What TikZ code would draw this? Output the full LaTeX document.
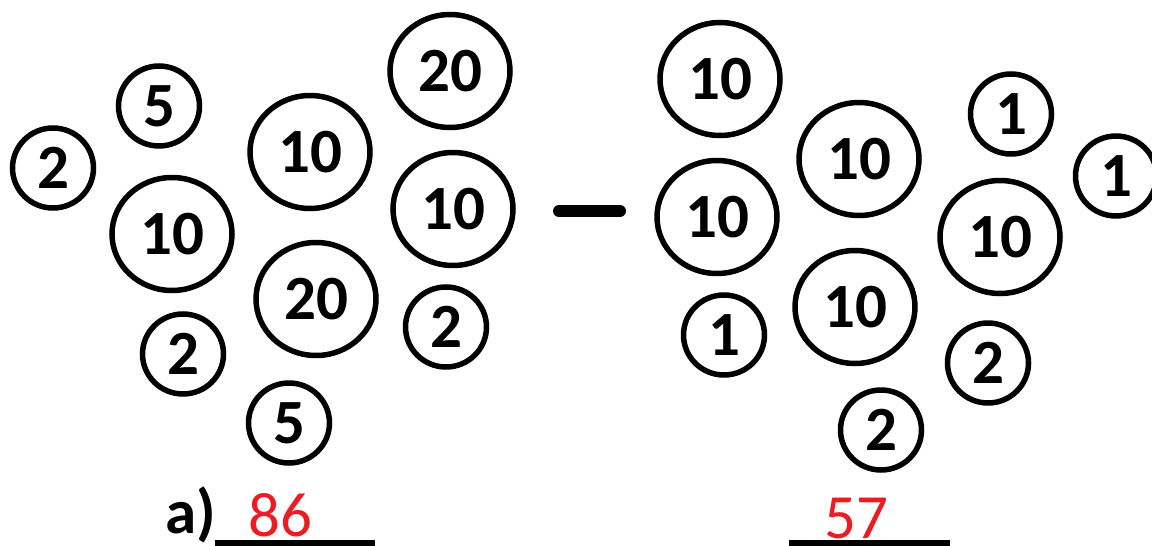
\documentclass[tikz,border=0pt]{standalone}
\usepackage{fontspec}
\setmainfont{Carlito}
\usetikzlibrary{shapes.geometric}
\definecolor{ansred}{RGB}{237,28,36}
\tikzset{
  coin/.style={draw=black, line width=5.5pt, ellipse, inner sep=0pt,
    font=\fontsize{63}{63}\selectfont\bfseries},
  bigcoin/.style={coin, minimum width=120pt, minimum height=113pt},
  smallcoin/.style={coin, minimum width=81pt, minimum height=80pt},
  answer/.style={anchor=base west, inner sep=0pt, text=ansred,
    font=\fontsize{63}{63}\selectfont},
  label/.style={anchor=base west, inner sep=0pt,
    font=\fontsize{63}{63}\selectfont\bfseries},
  blank/.style={line width=6pt},
  minussign/.style={line width=12pt, line cap=round}
}
\begin{document}
\begin{tikzpicture}[x=1pt,y=-1pt]
\useasboundingbox (0,0) rectangle (1152,546);
% left group
\node[smallcoin] (l1) at (53,168) {2};
\node[smallcoin] (l2) at (159,106) {5};
\node[bigcoin]   (l3) at (172,234) {10};
\node[bigcoin]   (l4) at (310,152) {10};
\node[bigcoin]   (l5) at (450,71) {20};
\node[bigcoin]   (l6) at (453,209) {10};
\node[bigcoin]   (l7) at (316,299) {20};
\node[smallcoin] (l8) at (183,354) {2};
\node[smallcoin] (l9) at (446,327) {2};
\node[smallcoin] (l10) at (289,423) {5};
% minus sign
\coordinate (m1) at (559,211);
\coordinate (m2) at (620,211);
\draw[minussign] (m1) -- (m2);
% right group
\node[bigcoin]   (r1) at (720,79) {10};
\node[bigcoin]   (r2) at (717,217) {10};
\node[bigcoin]   (r3) at (859,159) {10};
\node[smallcoin] (r4) at (1011,114) {1};
\node[smallcoin] (r5) at (1116,176) {1};
\node[bigcoin]   (r6) at (1000,237) {10};
\node[smallcoin] (r7) at (724,335) {1};
\node[bigcoin]   (r8) at (855,307) {10};
\node[smallcoin] (r9) at (988,363) {2};
\node[smallcoin] (r10) at (881,430) {2};
% answers
\node[label] (la) at (165,533) {a)};
\node[answer] (a1) at (248,536) {86};
\node[answer] (a2) at (824,538) {57};
\coordinate (u1s) at (215,543);
\coordinate (u1e) at (375,543);
\coordinate (u2s) at (789,543);
\coordinate (u2e) at (950,543);
\draw[blank] (u1s) -- (u1e);
\draw[blank] (u2s) -- (u2e);
\end{tikzpicture}
\end{document}
